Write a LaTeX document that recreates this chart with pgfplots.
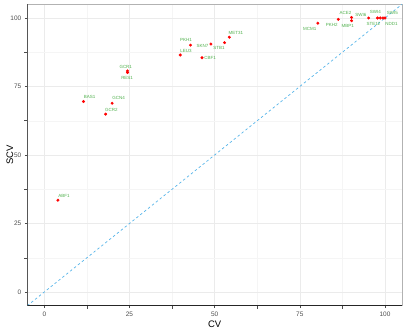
\documentclass[border=0pt]{standalone}
\usepackage{fontspec}
\setmainfont{Liberation Sans}
\usepackage{pgfplots}
\pgfplotsset{compat=1.18}

\definecolor{ptred}{RGB}{255,0,0}
\definecolor{lblgreen}{RGB}{77,175,74}
\definecolor{ablue}{RGB}{86,180,233}
\definecolor{gridmaj}{RGB}{235,235,235}
\definecolor{gridmin}{RGB}{245,245,245}
\definecolor{ticktxt}{RGB}{77,77,77}

\pgfplotstableread{
x     y     name
4.0   33.5  ABF1
11.5  69.5  BAS1
19.9  68.9  GCN4
18.0  64.9  GCR2
24.4  80.7  GCR1
24.4  80.1  RES1
39.9  86.5  LEU3
42.9  90.1  PKH1
48.9  90.5  SKN7
52.9  91.0  STB1
46.3  85.5  CBF1
54.3  93.0  MET31
80.3  98.1  MCM1
86.3  99.5  PKH2
90.2  100.2 ACE2
90.2  99.0  MBP1
95.2  100.0 SWI6
97.8  100.0 STE12
98.6  100.0 SWI4
99.4  100.0 NDD1
100.0 100.0 SWI5
}\tfdata

\begin{document}
\begin{tikzpicture}
\begin{axis}[
    at={(0,0)}, anchor=south west,
    scale only axis,
    width=374.7bp, height=301.4bp,
    xmin=-5, xmax=105, ymin=-5, ymax=105,
    xtick={0,25,50,75,100}, ytick={0,25,50,75,100},
    minor xtick={12.5,37.5,62.5,87.5},
    minor ytick={12.5,37.5,62.5,87.5},
    grid=both,
    major grid style={gridmaj, line width=0.6pt},
    minor grid style={gridmin, line width=0.4pt},
    axis line style={draw=gray!60, line width=0.7pt},
    xtick pos=left, ytick pos=left,
    tick align=outside,
    major tick length=2.5bp,
    tick style={black!70, line width=0.5pt},
    ticklabel style={font=\fontsize{6.5}{7}\selectfont, text=ticktxt},
    /pgf/number format/assume math mode=true,
    clip=true,
]
\addplot[ablue, line width=0.7pt, dash pattern=on 2.5bp off 2.5bp] coordinates {(-5,-5) (105,105)};
\addplot[only marks, mark=*, mark size=1.3pt, ptred] table[x=x, y=y] {\tfdata};
\draw[black!85, line width=0.8pt] (rel axis cs:0,1) -- (rel axis cs:0,0) -- (rel axis cs:1,0);
\begin{scope}[every node/.style={font=\fontsize{4.5}{5}\selectfont, text=lblgreen, inner sep=0pt}]
\node at (axis cs:5.8,35.2) {ABF1};
\node at (axis cs:13.3,71.1) {BAS1};
\node at (axis cs:21.8,70.9) {GCN4};
\node at (axis cs:19.7,66.5) {GCR2};
\node at (axis cs:23.9,82.3) {GCR1};
\node at (axis cs:24.3,78.2) {RES1};
\node at (axis cs:41.6,88.1) {LEU3};
\node at (axis cs:41.6,92.0) {PKH1};
\node at (axis cs:46.4,89.9) {SKN7};
\node at (axis cs:51.3,89.2) {STB1};
\node at (axis cs:48.7,85.5) {CBF1};
\node at (axis cs:56.2,94.6) {MET31};
\node at (axis cs:77.9,96.1) {MCM1};
\node at (axis cs:84.4,97.6) {PKH2};
\node at (axis cs:88.4,101.7) {ACE2};
\node at (axis cs:89.1,97.2) {MBP1};
\node at (axis cs:92.9,101.2) {SWI6};
\node at (axis cs:96.6,97.8) {STE12};
\node at (axis cs:97.2,102.2) {SWI4};
\node at (axis cs:102.2,101.8) {SWI5};
\node at (axis cs:101.9,97.8) {NDD1};
\end{scope}
\end{axis}
\node[font=\fontsize{9.5}{11}\selectfont] at (187.35bp,-18.5bp) {CV};
\node[font=\fontsize{9.5}{11}\selectfont, rotate=90] at (-17.5bp,150.7bp) {SCV};
\pgfresetboundingbox
\useasboundingbox (-27.3bp,-26.3bp) rectangle (379.7bp,305.7bp);
\end{tikzpicture}
\end{document}
